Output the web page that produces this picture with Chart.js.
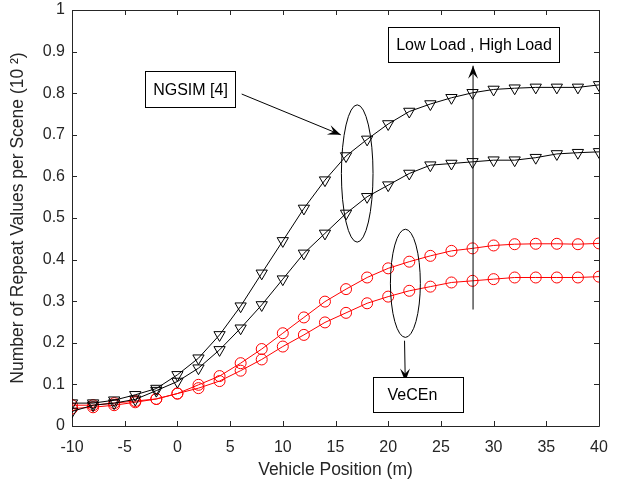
<!DOCTYPE html>
<html>
<head>
<meta charset="utf-8">
<script src="https://cdn.jsdelivr.net/npm/chart.js@4.4.1/dist/chart.umd.min.js"></script>
<style>
  html, body { margin: 0; padding: 0; background: #fff; }
  #wrap { width: 618px; height: 481px; }
</style>
</head>
<body>
<div id="wrap"><canvas id="myChart"></canvas></div>
<script>
// vehicle positions (m)
var positions = [-10, -8, -6, -4, -2, 0, 2, 4, 6, 8, 10, 12, 14, 16, 18, 20, 22, 24, 26, 28, 30, 32, 34, 36, 38, 40];

// NGSIM [4], high load and low load
var ngsimHigh = [0.055, 0.055, 0.062, 0.075, 0.090, 0.123, 0.163, 0.219, 0.288, 0.367, 0.445, 0.523, 0.591, 0.649, 0.689, 0.726, 0.756, 0.774, 0.789, 0.801, 0.809, 0.812, 0.814, 0.814, 0.814, 0.820];
var ngsimLow  = [0.035, 0.050, 0.055, 0.064, 0.085, 0.107, 0.139, 0.183, 0.235, 0.291, 0.353, 0.415, 0.463, 0.511, 0.551, 0.579, 0.607, 0.627, 0.631, 0.635, 0.639, 0.639, 0.645, 0.654, 0.657, 0.659];

// VeCEn, high load and low load
var vecenHigh = [0.050, 0.050, 0.055, 0.060, 0.065, 0.078, 0.099, 0.120, 0.151, 0.185, 0.223, 0.261, 0.299, 0.329, 0.357, 0.379, 0.395, 0.409, 0.421, 0.427, 0.434, 0.437, 0.438, 0.438, 0.437, 0.439];
var vecenLow  = [0.042, 0.045, 0.050, 0.057, 0.065, 0.078, 0.091, 0.108, 0.133, 0.160, 0.191, 0.219, 0.249, 0.272, 0.295, 0.311, 0.325, 0.335, 0.345, 0.349, 0.353, 0.357, 0.357, 0.357, 0.357, 0.359];

var xTicks = [-10, -5, 0, 5, 10, 15, 20, 25, 30, 35, 40];
var yTicks = [0, 0.1, 0.2, 0.3, 0.4, 0.5, 0.6, 0.7, 0.8, 0.9, 1];

var axisColor = '#262626';
var fontFamily = '"Liberation Sans", Arial, Helvetica, sans-serif';

function toPoints(values) {
    return positions.map(function (x, i) { return { x: x, y: values[i] }; });
}

function triSeries(label, values) {
    return {
        label: label,
        data: toPoints(values),
        borderColor: '#000000',
        backgroundColor: 'rgba(0,0,0,0)',
        borderWidth: 1,
        pointStyle: 'triangle',
        rotation: 180,
        pointRadius: 6.5,
        pointBorderWidth: 1,
        pointBackgroundColor: 'rgba(0,0,0,0)',
        pointBorderColor: '#000000'
    };
}

function circSeries(label, values) {
    return {
        label: label,
        data: toPoints(values),
        borderColor: '#ff0000',
        backgroundColor: 'rgba(0,0,0,0)',
        borderWidth: 1,
        pointStyle: 'circle',
        pointRadius: 5.5,
        pointBorderWidth: 1,
        pointBackgroundColor: 'rgba(0,0,0,0)',
        pointBorderColor: '#ff0000'
    };
}

// MATLAB-like box with inward ticks on all four sides
var boxPlugin = {
    id: 'boxPlugin',
    beforeDatasetsDraw: function (chart) {
        var ctx = chart.ctx, a = chart.chartArea;
        var xs = chart.scales.x, ys = chart.scales.y;
        ctx.save();
        ctx.strokeStyle = axisColor;
        ctx.lineWidth = 1;
        ctx.beginPath();
        ctx.rect(Math.round(a.left) + 0.5, Math.round(a.top) + 0.5, Math.round(a.right - a.left), Math.round(a.bottom - a.top));
        var len = 5;
        xTicks.forEach(function (v) {
            var px = Math.round(xs.getPixelForValue(v)) + 0.5;
            ctx.moveTo(px, a.bottom); ctx.lineTo(px, a.bottom - len);
            ctx.moveTo(px, a.top); ctx.lineTo(px, a.top + len);
        });
        yTicks.forEach(function (v) {
            var py = Math.round(ys.getPixelForValue(v)) + 0.5;
            ctx.moveTo(a.left, py); ctx.lineTo(a.left + len, py);
            ctx.moveTo(a.right, py); ctx.lineTo(a.right - len, py);
        });
        ctx.stroke();
        ctx.restore();
    }
};

function arrowHead(ctx, x1, y1, x2, y2) {
    var ang = Math.atan2(y2 - y1, x2 - x1);
    var L = 13, W = 5;
    ctx.beginPath();
    ctx.moveTo(x2, y2);
    ctx.lineTo(x2 - L * Math.cos(ang) + W * Math.sin(ang), y2 - L * Math.sin(ang) - W * Math.cos(ang));
    ctx.lineTo(x2 - L * 0.6 * Math.cos(ang), y2 - L * 0.6 * Math.sin(ang));
    ctx.lineTo(x2 - L * Math.cos(ang) - W * Math.sin(ang), y2 - L * Math.sin(ang) + W * Math.cos(ang));
    ctx.closePath();
    ctx.fill();
}

// text boxes, ellipses and arrows, placed in data coordinates
var notesPlugin = {
    id: 'notesPlugin',
    afterDatasetsDraw: function (chart) {
        var ctx = chart.ctx;
        var X = function (v) { return chart.scales.x.getPixelForValue(v); };
        var Y = function (v) { return chart.scales.y.getPixelForValue(v); };
        ctx.save();
        ctx.strokeStyle = '#000';
        ctx.fillStyle = '#000';
        ctx.lineWidth = 1;

        function textBox(x1, y1, x2, y2, text, align) {
            var l = Math.round(X(x1)) + 0.5, r = Math.round(X(x2)) + 0.5;
            var t = Math.round(Y(y1)) + 0.5, b = Math.round(Y(y2)) + 0.5;
            ctx.fillStyle = '#fff';
            ctx.fillRect(l, t, r - l, b - t);
            ctx.strokeStyle = '#000';
            ctx.strokeRect(l, t, r - l, b - t);
            ctx.fillStyle = '#000';
            ctx.font = '16px ' + fontFamily;
            ctx.textBaseline = 'middle';
            if (align === 'left') {
                ctx.textAlign = 'left';
                ctx.fillText(text, l + 14, (t + b) / 2 + 1);
            } else {
                ctx.textAlign = 'center';
                ctx.fillText(text, (l + r) / 2, (t + b) / 2 + 1);
            }
        }

        function ellipse(cx, cy, rx, ry) {
            var px = X(cx), py = Y(cy);
            var prx = Math.abs(X(cx + rx) - px), pry = Math.abs(Y(cy + ry) - py);
            ctx.beginPath();
            ctx.ellipse(px, py, prx, pry, 0, 0, Math.PI * 2);
            ctx.stroke();
        }

        function arrow(x1, y1, x2, y2) {
            var a = X(x1), b = Y(y1), c = X(x2), d = Y(y2);
            ctx.beginPath();
            ctx.moveTo(a, b); ctx.lineTo(c, d);
            ctx.stroke();
            arrowHead(ctx, a, b, c, d);
        }

        // NGSIM group
        ellipse(17.06, 0.607, 1.5, 0.165);
        arrow(6.1, 0.798, 15.5, 0.70);
        textBox(-3.1, 0.853, 5.45, 0.767, 'NGSIM [4]');

        // load marker
        arrow(28.05, 0.28, 28.05, 0.866);
        textBox(19.98, 0.96, 36.18, 0.876, 'Low Load , High Load');

        // VeCEn group
        ellipse(21.63, 0.343, 1.42, 0.13);
        arrow(21.55, 0.205, 21.62, 0.107);
        textBox(18.56, 0.117, 27.1, 0.033, 'VeCEn', 'left');

        ctx.restore();
    }
};

var ctx = document.getElementById('myChart').getContext('2d');

if (ctx) {
    var myChart = new Chart(ctx, {
        type: 'line',
        data: {
            datasets: [
                triSeries('NGSIM High Load', ngsimHigh),
                triSeries('NGSIM Low Load', ngsimLow),
                circSeries('VeCEn High Load', vecenHigh),
                circSeries('VeCEn Low Load', vecenLow)
            ]
        },
        options: {
            responsive: true,
            maintainAspectRatio: false,
            animation: false,
            layout: { padding: { top: 10, right: 19, left: 0, bottom: 0 } },
            plugins: {
                legend: { display: false },
                tooltip: { enabled: false }
            },
            scales: {
                x: {
                    type: 'linear',
                    min: -10,
                    max: 40,
                    afterBuildTicks: function (scale) {
                        scale.ticks = xTicks.map(function (v) { return { value: v }; });
                    },
                    afterFit: function (scale) {
                        scale.height = 55;
                        scale.paddingLeft = 0;
                        scale.paddingRight = 0;
                    },
                    grid: { display: false, drawTicks: false },
                    border: { display: false },
                    ticks: {
                        color: axisColor,
                        padding: 12,
                        maxRotation: 0,
                        font: { family: fontFamily, size: 16 }
                    },
                    title: {
                        display: true,
                        text: 'Vehicle Position (m)',
                        color: axisColor,
                        padding: { top: 4, bottom: 0 },
                        font: { family: fontFamily, size: 17.5 }
                    }
                },
                y: {
                    type: 'linear',
                    min: 0,
                    max: 1,
                    afterBuildTicks: function (scale) {
                        scale.ticks = yTicks.map(function (v) { return { value: v }; });
                    },
                    afterFit: function (scale) {
                        scale.width = 72;
                        scale.paddingTop = 0;
                        scale.paddingBottom = 0;
                    },
                    grid: { display: false, drawTicks: false },
                    border: { display: false },
                    ticks: {
                        color: axisColor,
                        padding: 7,
                        font: { family: fontFamily, size: 16 },
                        callback: function (v) { return String(Math.round(v * 10) / 10); }
                    },
                    title: {
                        display: true,
                        text: 'Number of Repeat Values per Scene (10 \u00B2)',
                        color: axisColor,
                        padding: { top: 8, bottom: 0 },
                        font: { family: fontFamily, size: 17.5 }
                    }
                }
            }
        },
        plugins: [boxPlugin, notesPlugin]
    });
} else {
    console.error("Canvas element with ID 'myChart' not found.");
}
</script>
</body>
</html>
